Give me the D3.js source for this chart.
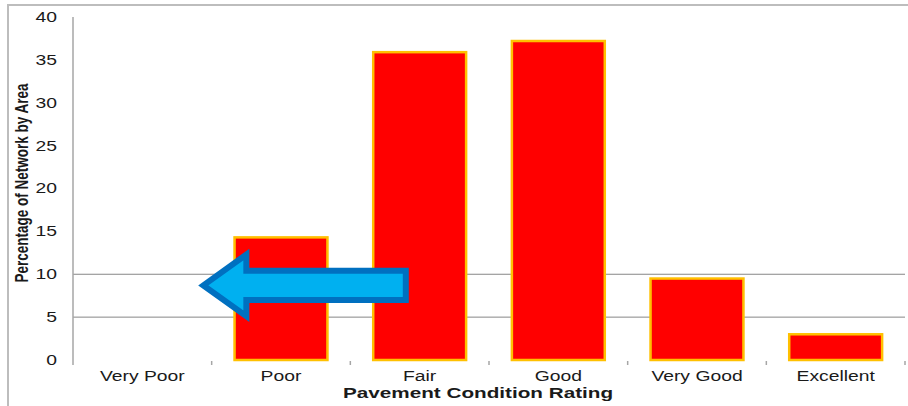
<!DOCTYPE html>
<html>
<head>
<meta charset="utf-8">
<style>
  body { margin: 0; background: #fff; }
  text { font-family: "Liberation Sans", Arial, sans-serif; fill: #1a1a1a; }
</style>
</head>
<body>
<svg width="908" height="406"></svg>
<script src="https://d3js.org/d3.v7.min.js"></script>
<script>
// data
var categories = ["Very Poor", "Poor", "Fair", "Good", "Very Good", "Excellent"];
var percents = [0, 14.3, 35.9, 37.2, 9.5, 3.0];
var yTicks = [0, 5, 10, 15, 20, 25, 30, 35, 40];
var gridValues = [5, 10];   // only these two gridlines show in the original

// arrow annotation, in category units (x) and percent (y)
var arrowTip = [0.94, 8.7], arrowHead = [1.25, 12.3, 5.1], arrowShaft = [2.4, 10.4, 7.0];

var svg = d3.select("svg");
// note: "top" is taken by window.top, so plot edges get their own names
var plotLeft = 73, plotRight = 905, plotTop = 17, plotBottom = 360;
var stretch = 1.38;   // text in the picture is stretched sideways

var x = d3.scaleBand().domain(categories).range([plotLeft, plotRight])
    .paddingInner(0.33).paddingOuter(0.165);
var xc = d3.scaleLinear().domain([0, categories.length]).range([plotLeft, plotRight]);
var y = d3.scaleLinear().domain([0, 40]).range([plotBottom, plotTop]);

// outer frame (only top and left edges visible)
svg.append("rect").attr("x", 8).attr("y", 5).attr("width", 1000).attr("height", 500)
  .attr("fill", "none").attr("stroke", "#bdbdbd").attr("stroke-width", 2);

// gridlines
svg.selectAll(".grid").data(gridValues).enter().append("line")
  .attr("x1", plotLeft).attr("x2", plotRight)
  .attr("y1", function(d) { return y(d); }).attr("y2", function(d) { return y(d); })
  .attr("stroke", "#868686").attr("stroke-width", 1);

// y axis line
svg.append("line").attr("x1", plotLeft).attr("x2", plotLeft)
  .attr("y1", plotTop).attr("y2", plotBottom + 5)
  .attr("stroke", "#a6a6a6").attr("stroke-width", 1.5);

// x tick marks between categories
svg.selectAll(".xtick").data(d3.range(1, categories.length + 1)).enter().append("line")
  .attr("x1", function(d) { return xc(d); }).attr("x2", function(d) { return xc(d); })
  .attr("y1", plotBottom + 1).attr("y2", plotBottom + 5)
  .attr("stroke", "#a6a6a6").attr("stroke-width", 1.5);

// y tick labels
svg.selectAll(".ylab").data(yTicks).enter().append("text")
  .attr("transform", function(d) { return "translate(" + (plotLeft - 16) + "," + y(d) + ") scale(" + stretch + ",1)"; })
  .attr("text-anchor", "end").attr("dy", "0.35em")
  .style("font-size", "14px")
  .text(function(d) { return d; });

// bars
svg.selectAll(".bar").data(percents).enter().append("rect")
  .attr("x", function(d, i) { return x(categories[i]); })
  .attr("width", x.bandwidth())
  .attr("y", function(d) { return y(d); })
  .attr("height", function(d) { return plotBottom - y(d); })
  .attr("fill", "#ff0000")
  .attr("stroke", function(d) { return d > 0 ? "#ffc000" : "none"; })
  .attr("stroke-width", 2.5);

// x category labels
svg.selectAll(".xlab").data(categories).enter().append("text")
  .attr("transform", function(d) { return "translate(" + (x(d) + x.bandwidth() / 2) + ",381) scale(" + stretch + ",1)"; })
  .attr("text-anchor", "middle")
  .style("font-size", "14px")
  .text(function(d) { return d; });

// axis titles
svg.append("text")
  .attr("transform", "translate(478,398) scale(" + stretch + ",1)")
  .attr("text-anchor", "middle")
  .style("font-size", "15px").style("font-weight", "bold")
  .text("Pavement Condition Rating");

svg.append("text")
  .attr("transform", "translate(28,183) scale(" + stretch + ",1) rotate(-90)")
  .attr("text-anchor", "middle")
  .style("font-size", "13.5px").style("font-weight", "bold")
  .text("Percentage of Network by Area");

// arrow
var arrowPts = [
  [xc(arrowTip[0]), y(arrowTip[1])],
  [xc(arrowHead[0]), y(arrowHead[1])],
  [xc(arrowHead[0]), y(arrowShaft[1])],
  [xc(arrowShaft[0]), y(arrowShaft[1])],
  [xc(arrowShaft[0]), y(arrowShaft[2])],
  [xc(arrowHead[0]), y(arrowShaft[2])],
  [xc(arrowHead[0]), y(arrowHead[2])]
];
svg.append("path")
  .attr("d", d3.line()(arrowPts) + "Z")
  .attr("fill", "#00b0f0")
  .attr("stroke", "#0070c0").attr("stroke-width", 6)
  .attr("stroke-linejoin", "miter");
</script>
</body>
</html>
